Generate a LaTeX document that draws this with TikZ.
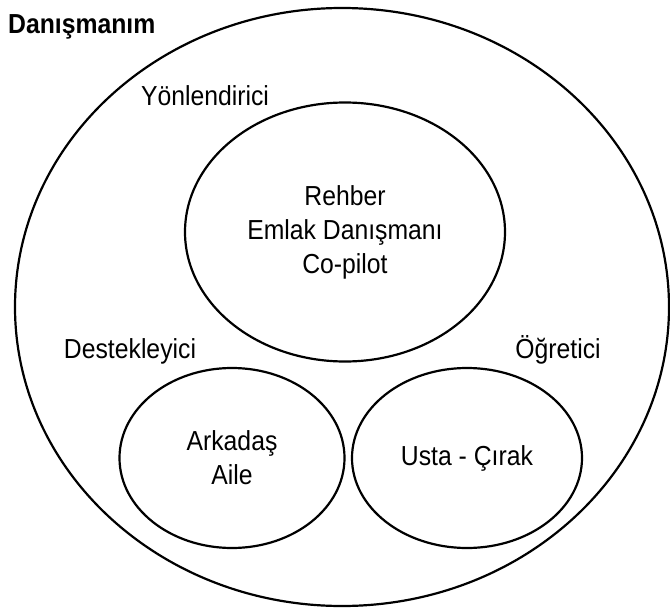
\documentclass[tikz,border=0pt]{standalone}
\usepackage{fontspec}
\setmainfont{Liberation Sans}[FakeStretch=0.9]
\usetikzlibrary{shapes.geometric}
\begin{document}
\begin{tikzpicture}[x=1pt,y=-1pt,
  ring/.style={ellipse,draw=black,line width=2.2pt,inner sep=0pt,
    align=center,font=\fontsize{27.5}{34}\selectfont},
  caption/.style={font=\fontsize{27.5}{34}\selectfont,inner sep=0pt,anchor=base},
  title/.style={font=\fontsize{27.5}{34}\selectfont\bfseries,inner sep=0pt,anchor=base west}]
  \useasboundingbox (0,0) rectangle (670,608);
  % outer region and the three inner groups
  \node[ring,minimum width=654pt,minimum height=598pt] (outer) at (342,307) {};
  \node[ring,minimum width=320pt,minimum height=259pt] (guide) at (345,232)
    {Rehber\\Emlak Danışmanı\\Co-pilot};
  \node[ring,minimum width=225pt,minimum height=180pt] (support) at (232,458)
    {Arkadaş\\Aile};
  \node[ring,minimum width=230pt,minimum height=180pt] (teach) at (467,458)
    {Usta - Çırak};
  % labels
  \node[title] (tMain) at (8,33) {Danışmanım};
  \node[caption] (tGuide) at (205,105) {Yönlendirici};
  \node[caption] (tSupport) at (130,358) {Destekleyici};
  \node[caption] (tTeach) at (558,358) {Öğretici};
\end{tikzpicture}
\end{document}
